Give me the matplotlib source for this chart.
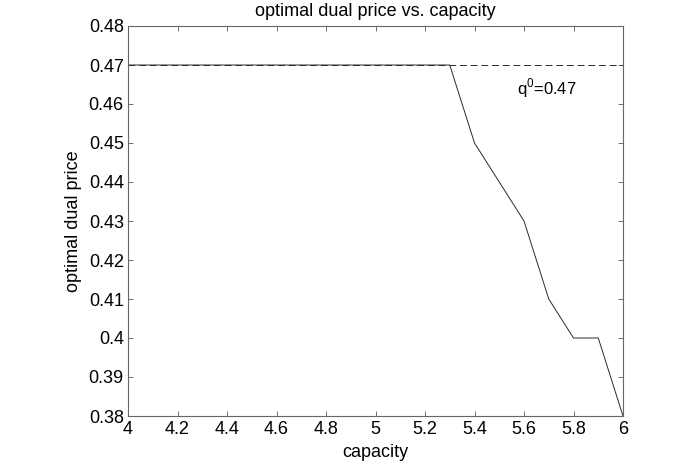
import matplotlib
matplotlib.use('Agg')
from matplotlib import pyplot as plt

plt.rcParams['font.family'] = ['Liberation Sans', 'DejaVu Sans']

capacity = [4.0, 4.1, 4.2, 4.3, 4.4, 4.5, 4.6, 4.7, 4.8, 4.9, 5.0,
            5.1, 5.2, 5.3, 5.4, 5.5, 5.6, 5.7, 5.8, 5.9, 6.0]
dual_price = [0.47, 0.47, 0.47, 0.47, 0.47, 0.47, 0.47, 0.47, 0.47, 0.47, 0.47,
              0.47, 0.47, 0.47, 0.45, 0.44, 0.43, 0.41, 0.40, 0.40, 0.38]
q0 = 0.47

xticks = [4, 4.2, 4.4, 4.6, 4.8, 5, 5.2, 5.4, 5.6, 5.8, 6]
xticklabels = ['4', '4.2', '4.4', '4.6', '4.8', '5', '5.2', '5.4', '5.6', '5.8', '6']
yticks = [0.38, 0.39, 0.40, 0.41, 0.42, 0.43, 0.44, 0.45, 0.46, 0.47, 0.48]
yticklabels = ['0.38', '0.39', '0.4', '0.41', '0.42', '0.43', '0.44', '0.45', '0.46', '0.47', '0.48']

fontsize = 13

fig = plt.figure(figsize=(6.97, 4.65), dpi=100)
# axes box: x 128..623, y 26..416 px
ax = fig.add_axes([128 / 697, 49 / 465, 495 / 697, 390 / 465])

ax.plot(capacity, dual_price, color='#2a2a2a', linewidth=0.7)
ax.plot([capacity[0], capacity[-1]], [q0, q0], color='#2a2a2a', linewidth=0.7,
        linestyle=(0, (7, 4)))
ax.text(5.572, 0.4641, r'q$^{\mathregular{0}}$=0.47', fontsize=12, va='center', ha='left')

ax.set_xlim(4, 6)
ax.set_ylim(0.38, 0.48)
ax.set_xticks(xticks)
ax.set_xticklabels(xticklabels)
ax.set_yticks(yticks)
ax.set_yticklabels(yticklabels)
ax.tick_params(direction='in', top=True, right=True, labelsize=fontsize, length=3.5,
               width=0.6, color='#555555')
ax.tick_params(axis='x', pad=3.5)
ax.tick_params(axis='y', pad=3)
for s in ax.spines.values():
    s.set_color('#666666')
    s.set_linewidth(0.8)

fig.text(375.5 / 697, 1 - 11.5 / 465, 'optimal dual price vs. capacity',
         fontsize=fontsize, ha='center', va='center')
ax.set_xlabel('capacity', fontsize=fontsize, va='center')
ax.xaxis.set_label_coords(0.5, -36 / 390)
ax.set_ylabel('optimal dual price', fontsize=fontsize, va='center')
ax.yaxis.set_label_coords(-54 / 495, 0.5)

fig.savefig('out.png', dpi=100)
